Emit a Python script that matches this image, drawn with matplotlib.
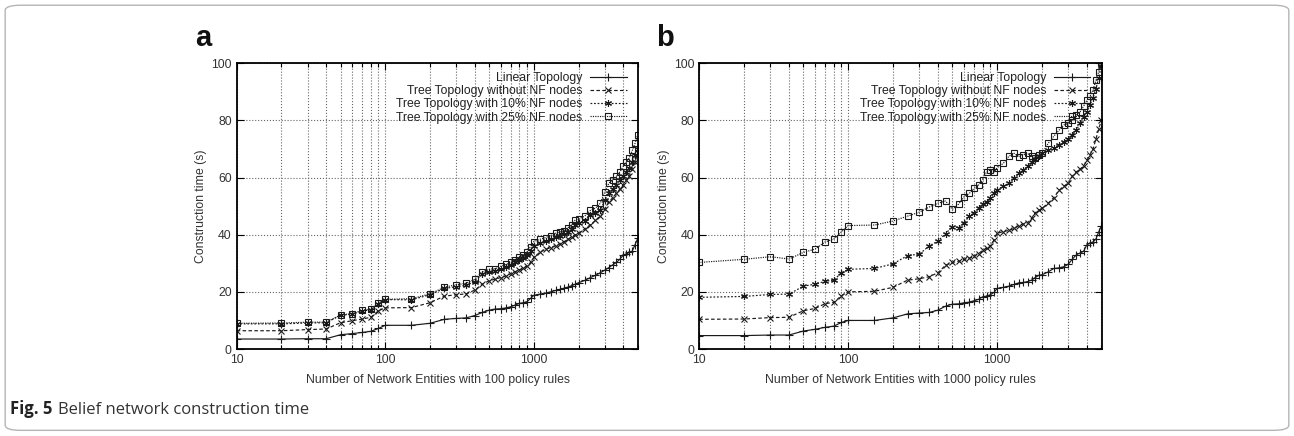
import matplotlib.pyplot as plt
from matplotlib.ticker import FixedLocator, LogLocator, NullFormatter
from matplotlib.patches import FancyBboxPatch

plt.rcParams['font.family'] = ['Liberation Sans', 'DejaVu Sans']

# number of network entities (same for both panels)
entities = [10, 20, 30, 40, 50, 60, 70, 80, 90, 100,
            150, 200, 250, 300, 350, 400, 450, 500, 550, 600, 650, 700, 750, 800, 850, 900, 950, 1000,
            1100, 1200, 1300, 1400, 1500, 1600, 1700, 1800, 1900, 2000,
            2200, 2400, 2600, 2800, 3000, 3200, 3400, 3600, 3800, 4000, 4200, 4400, 4600, 4800, 5000]

# panel a: 100 policy rules
a_linear = [3.5, 3.5, 3.6, 3.6, 5.0, 5.4, 5.8, 6.2, 7.2, 8.3,
            8.3, 9.0, 10.4, 10.7, 10.9, 11.7, 12.8, 13.6, 14.0, 14.1, 14.4, 14.8, 15.4, 16.0, 16.2, 16.6, 17.7, 18.8,
            19.2, 19.6, 20.0, 20.5, 20.9, 21.3, 21.7, 22.2, 22.7, 23.2,
            24.0, 25.0, 25.8, 26.7, 27.6, 28.5, 29.5, 30.3, 31.5, 32.9, 33.3, 33.8, 34.3, 36.5, 38.7]
a_tree = [6.4, 6.4, 6.8, 7.0, 9.2, 9.9, 10.5, 11.1, 13.4, 14.4,
          14.5, 16.2, 18.5, 19.0, 19.3, 20.6, 22.7, 23.9, 24.5, 25.0, 25.6, 26.4, 27.1, 27.7, 28.2, 29.0, 30.3, 32.1,
          33.9, 34.9, 35.5, 36.1, 36.9, 37.6, 38.4, 39.3, 39.9, 40.5,
          42.0, 43.5, 45.0, 46.5, 49.0, 51.5, 53.0, 54.5, 56.0, 57.5, 59.0, 60.5, 63.0, 65.5, 68.5]
a_nf10 = [8.8, 8.8, 9.1, 9.2, 11.8, 12.2, 13.3, 13.7, 15.9, 17.3,
          17.2, 19.0, 21.2, 21.8, 22.3, 23.6, 26.2, 27.1, 27.4, 28.1, 28.7, 29.4, 30.3, 31.2, 31.7, 32.8, 34.4, 36.1,
          37.0, 37.7, 38.4, 39.1, 39.6, 40.1, 41.0, 41.9, 43.4, 44.2,
          44.9, 46.9, 47.7, 48.6, 52.0, 54.5, 56.0, 57.5, 59.0, 60.5, 62.0, 63.5, 65.5, 68.0, 70.0]
a_nf25 = [9.0, 9.1, 9.4, 9.4, 11.9, 12.4, 13.5, 14.0, 16.1, 17.4,
          17.6, 19.3, 21.6, 22.5, 23.0, 24.4, 27.0, 27.9, 28.1, 29.0, 29.6, 30.3, 31.3, 32.3, 32.9, 34.0, 35.8, 37.6,
          38.4, 39.0, 39.7, 40.5, 41.0, 41.4, 42.5, 43.5, 45.2, 45.5,
          46.5, 48.5, 49.3, 51.0, 55.0, 58.0, 59.3, 60.5, 62.0, 64.0, 65.3, 67.0, 69.5, 72.0, 75.0]

# panel b: 1000 policy rules
b_linear = [4.7, 4.7, 4.9, 4.9, 6.3, 6.9, 7.6, 8.0, 9.3, 10.0,
            10.0, 10.9, 12.3, 12.6, 12.8, 13.6, 15.0, 15.7, 15.8, 16.2, 16.4, 16.9, 17.4, 18.3, 18.5, 19.0, 19.8, 21.2,
            21.6, 22.0, 22.6, 23.2, 23.3, 23.6, 24.1, 25.0, 25.8, 26.0,
            27.0, 28.2, 28.4, 28.8, 29.7, 31.5, 33.0, 33.6, 34.2, 36.5, 37.0, 37.5, 38.5, 41.0, 43.0]
b_tree = [10.4, 10.5, 11.0, 11.1, 13.4, 14.2, 15.9, 16.3, 18.7, 20.0,
          20.2, 21.6, 24.1, 24.6, 25.3, 26.7, 29.3, 30.3, 30.7, 31.4, 31.7, 32.5, 33.4, 34.6, 35.2, 36.0, 38.1, 40.5,
          41.1, 41.5, 42.2, 43.2, 43.8, 44.2, 45.7, 47.7, 48.6, 49.2,
          51.0, 53.0, 55.5, 57.0, 58.0, 60.5, 62.0, 63.0, 64.0, 66.0, 68.0, 70.0, 73.5, 77.0, 80.0]
b_nf10 = [18.1, 18.4, 19.1, 19.2, 22.0, 22.7, 23.7, 24.1, 26.7, 27.9,
          28.2, 29.8, 32.7, 33.2, 36.1, 37.8, 40.4, 42.8, 42.5, 44.2, 46.5, 47.7, 49.2, 50.7, 51.5, 53.0, 54.5, 55.7,
          57.0, 58.0, 60.0, 61.5, 62.6, 64.0, 65.3, 66.5, 67.5, 68.5,
          69.5, 70.5, 71.5, 72.5, 73.5, 75.0, 76.6, 79.0, 81.3, 83.0, 85.5, 88.0, 91.0, 95.0, 99.0]
b_nf25 = [30.3, 31.4, 32.3, 31.5, 33.8, 35.0, 37.5, 38.5, 41.0, 43.2,
          43.4, 44.8, 46.5, 47.9, 49.7, 51.0, 51.8, 48.9, 50.7, 53.3, 54.5, 56.2, 57.4, 59.2, 62.1, 62.6, 61.9, 63.5,
          65.0, 67.5, 68.5, 67.3, 68.0, 68.5, 67.5, 67.0, 67.8, 68.5,
          72.0, 74.5, 76.6, 78.4, 79.0, 80.2, 81.9, 83.0, 85.0, 87.0, 88.5, 90.7, 94.0, 97.0, 100.0]

labels = ['Linear Topology', 'Tree Topology without NF nodes',
          'Tree Topology with 10% NF nodes', 'Tree Topology with 25% NF nodes']
x_ticks = [10, 100, 1000]
y_ticks = [0, 20, 40, 60, 80, 100]

ink = '#1a1a1a'
styles = [
    dict(linestyle='-', marker='+', markersize=6),
    dict(linestyle=(0, (3, 2)), marker='x', markersize=4.5),
    dict(linestyle=(0, (1.5, 1.5)), marker=(6, 2, 0), markersize=5),
    dict(linestyle=(0, (1, 1)), marker='s', markersize=4.5, fillstyle='none'),
]

fig = plt.figure(figsize=(12.94, 4.36), dpi=100)

# rounded frame around the whole figure
frame = FancyBboxPatch((0.004, 0.013), 0.992, 0.975, boxstyle='round,pad=0,rounding_size=0.012',
                       transform=fig.transFigure, fill=False, edgecolor='#b5b5b5', linewidth=1.0)
fig.patches.append(frame)


def draw_panel(rect, series, xlabel, letter, letter_x):
    ax = fig.add_axes(rect)
    for y, lab, st in zip(series, labels, styles):
        ax.plot(entities, y, color=ink, linewidth=0.85, markeredgewidth=0.8, label=lab, **st)
    ax.set_xscale('log')
    ax.set_xlim(10, 5050)
    ax.set_ylim(0, 100)
    ax.xaxis.set_major_locator(FixedLocator(x_ticks))
    ax.set_xticklabels([str(t) for t in x_ticks])
    ax.xaxis.set_minor_locator(LogLocator(base=10, subs=[2, 3, 4, 5, 6, 7, 8, 9]))
    ax.xaxis.set_minor_formatter(NullFormatter())
    ax.set_yticks(y_ticks)
    ax.grid(True, which='both', axis='x', linestyle=':', color='#666666', linewidth=0.8)
    ax.grid(True, which='major', axis='y', linestyle=':', color='#666666', linewidth=0.8)
    ax.tick_params(which='both', direction='in', top=True, right=True, labelsize=8.8,
                   labelcolor='#333333', width=0.8)
    ax.tick_params(which='major', length=5)
    ax.tick_params(which='minor', length=3)
    for sp in ax.spines.values():
        sp.set_linewidth(1.3)
    ax.set_xlabel(xlabel, fontsize=8.8, color='#333333', labelpad=6)
    ax.set_ylabel('Construction time (s)', fontsize=8.8, color='#333333', labelpad=3)
    leg = ax.legend(loc='upper right', frameon=False, markerfirst=False, fontsize=8.8,
                    handlelength=3.0, handletextpad=0.6, labelspacing=0.1,
                    borderaxespad=0.3, bbox_to_anchor=(0.992, 1.0))
    leg._legend_handle_box.get_children()[0].align = 'right'
    for t in leg.get_texts():
        t.set_color('#222222')
    fig.text(letter_x, 0.895, letter, fontsize=21, fontweight='bold', color='#111111')
    return ax


draw_panel([0.1829, 0.1995, 0.3104, 0.6553], [a_linear, a_tree, a_nf10, a_nf25],
           'Number of Network Entities with 100 policy rules', 'a', 0.151)
draw_panel([0.5404, 0.1995, 0.3112, 0.6553], [b_linear, b_tree, b_nf10, b_nf25],
           'Number of Network Entities with 1000 policy rules', 'b', 0.507)

# caption: bold "Fig. 5" followed by regular text
cap_font = ['Open Sans', 'DejaVu Sans']
bold = fig.text(0.008, 0.05, 'Fig. 5', fontsize=12, fontweight='bold',
                family=cap_font, color='#222222')
fig.canvas.draw()
bb = bold.get_window_extent().transformed(fig.transFigure.inverted())
fig.text(bb.x1 + 0.004, 0.05, 'Belief network construction time', fontsize=12,
         family=cap_font, color='#333333')

fig.savefig('out.png', dpi=100)
